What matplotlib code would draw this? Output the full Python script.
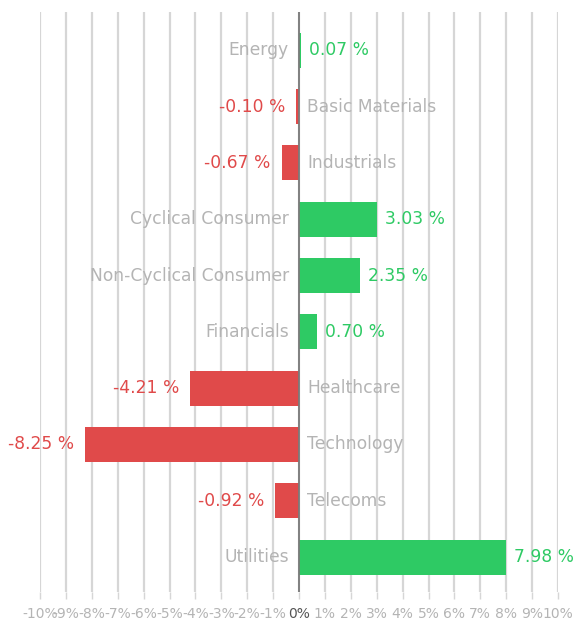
import numpy as np
import matplotlib.pyplot as plt

sectors = ["Energy", "Basic Materials", "Industrials", "Cyclical Consumer",
           "Non-Cyclical Consumer", "Financials", "Healthcare", "Technology",
           "Telecoms", "Utilities"]
changes = [0.07, -0.10, -0.67, 3.03, 2.35, 0.70, -4.21, -8.25, -0.92, 7.98]
ticks = list(range(-10, 11))
tick_labels = [f"{t}%" for t in ticks]

green = "#2ECA64"
red = "#E04A4A"
label_gray = "#b4b4b4"

fig = plt.figure(figsize=(5.73, 6.23), dpi=100)
ax = fig.add_axes([40 / 573, 31 / 623, 518 / 573, 580 / 623])

y = np.arange(len(sectors))
colors = [green if v >= 0 else red for v in changes]
ax.barh(y, changes, height=0.62, color=colors, zorder=3)

ax.set_xlim(-10, 10)
ax.set_ylim(9.62, -0.68)
ax.set_xticks(ticks)
ax.set_xticklabels(tick_labels)
ax.set_yticks([])
ax.grid(axis="x", color="#d6d6d6", linewidth=1.6, zorder=0)
ax.axvline(0, color="#7a7a7a", linewidth=1.3, zorder=4)
for s in ax.spines.values():
    s.set_visible(False)
ax.tick_params(axis="x", length=5, width=1, color="#d6d6d6", pad=6,
               labelsize=10, labelcolor=label_gray)
for lbl, t in zip(ax.get_xticklabels(), ticks):
    if t == 0:
        lbl.set_color("#555555")

fs = 12.3
for yi, (name, v, c) in enumerate(zip(sectors, changes, colors)):
    txt = f"{v:.2f} %"
    if v >= 0:
        ax.annotate(txt, (v, yi), xytext=(8, 0), textcoords="offset pixels",
                    ha="left", va="center", color=c, fontsize=fs, zorder=5)
        ax.annotate(name, (0, yi), xytext=(-10, 0), textcoords="offset pixels",
                    ha="right", va="center", color=label_gray, fontsize=fs, zorder=5)
    else:
        ax.annotate(txt, (v, yi), xytext=(-11, 0), textcoords="offset pixels",
                    ha="right", va="center", color=c, fontsize=fs, zorder=5)
        ax.annotate(name, (0, yi), xytext=(8, 0), textcoords="offset pixels",
                    ha="left", va="center", color=label_gray, fontsize=fs, zorder=5)

fig.savefig("out.png", dpi=100)
